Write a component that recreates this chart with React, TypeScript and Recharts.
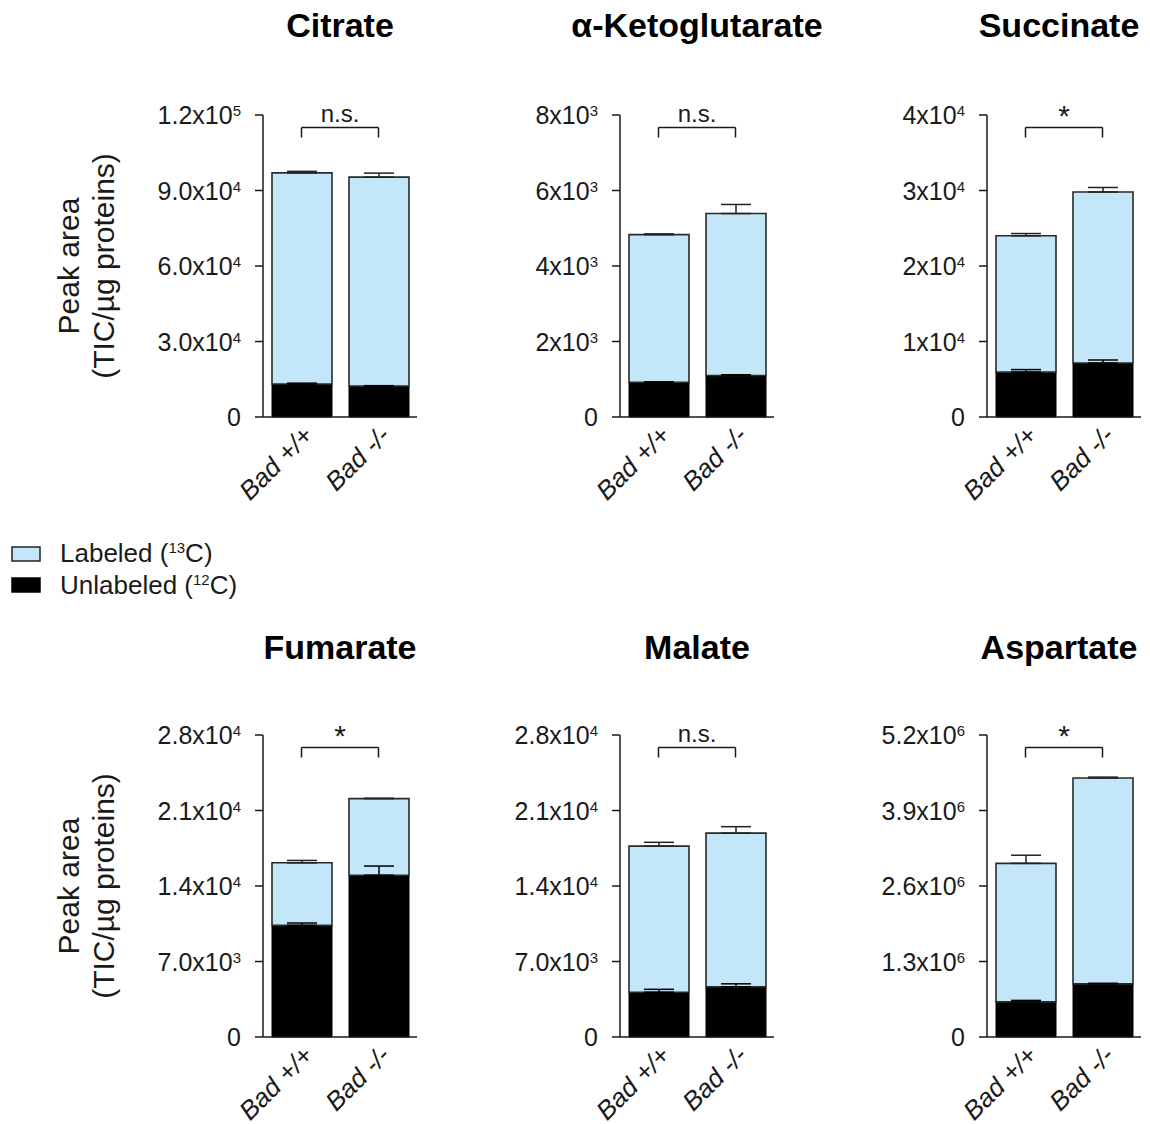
import React from 'react';
import { BarChart, Bar, XAxis, YAxis, ErrorBar, ReferenceLine } from 'recharts';

const categories = ['Bad +/+', 'Bad -/-'];

// values (peak area, TIC/µg proteins)
const citrateUnlabeled = [13100, 12300];
const citrateLabeled = [83900, 83000];
const citrateUnlabeledErr = [350, 150];
const citrateLabeledErr = [600, 1600];
const citrateTicks = [0, 30000, 60000, 90000, 120000];
const citrateTickLabels = ['0', '3.0x10^4', '6.0x10^4', '9.0x10^4', '1.2x10^5'];

const ketoUnlabeled = [920, 1100];
const ketoLabeled = [3910, 4290];
const ketoUnlabeledErr = [10, 20];
const ketoLabeledErr = [20, 240];
const ketoTicks = [0, 2000, 4000, 6000, 8000];
const ketoTickLabels = ['0', '2x10^3', '4x10^3', '6x10^3', '8x10^3'];

const succinateUnlabeled = [5950, 7150];
const succinateLabeled = [18050, 22650];
const succinateUnlabeledErr = [330, 400];
const succinateLabeledErr = [300, 600];
const succinateTicks = [0, 10000, 20000, 30000, 40000];
const succinateTickLabels = ['0', '1x10^4', '2x10^4', '3x10^4', '4x10^4'];

const fumarateUnlabeled = [10350, 15000];
const fumarateLabeled = [5800, 7100];
const fumarateUnlabeledErr = [220, 850];
const fumarateLabeledErr = [220, 30];
const fumarateTicks = [0, 7000, 14000, 21000, 28000];
const fumarateTickLabels = ['0', '7.0x10^3', '1.4x10^4', '2.1x10^4', '2.8x10^4'];

const malateUnlabeled = [4150, 4650];
const malateLabeled = [13550, 14250];
const malateUnlabeledErr = [270, 280];
const malateLabeledErr = [350, 600];
const malateTicks = [0, 7000, 14000, 21000, 28000];
const malateTickLabels = ['0', '7.0x10^3', '1.4x10^4', '2.1x10^4', '2.8x10^4'];

const aspartateUnlabeled = [605000, 915000];
const aspartateLabeled = [2385000, 3545000];
const aspartateUnlabeledErr = [25000, 10000];
const aspartateLabeledErr = [140000, 15000];
const aspartateTicks = [0, 1300000, 2600000, 3900000, 5200000];
const aspartateTickLabels = ['0', '1.3x10^6', '2.6x10^6', '3.9x10^6', '5.2x10^6'];

const titles = ['Citrate', 'α-Ketoglutarate', 'Succinate', 'Fumarate', 'Malate', 'Aspartate'];
const significance = ['n.s.', 'n.s.', '*', '*', 'n.s.', '*'];

const BLUE = '#c3e6f8';
const INK = '#1a1a1a';
const FONT = '"Liberation Sans", Arial, Helvetica, sans-serif';

const panels = [
  { unl: citrateUnlabeled, lab: citrateLabeled, unlErr: citrateUnlabeledErr, labErr: citrateLabeledErr, ticks: citrateTicks, tickLabels: citrateTickLabels },
  { unl: ketoUnlabeled, lab: ketoLabeled, unlErr: ketoUnlabeledErr, labErr: ketoLabeledErr, ticks: ketoTicks, tickLabels: ketoTickLabels },
  { unl: succinateUnlabeled, lab: succinateLabeled, unlErr: succinateUnlabeledErr, labErr: succinateLabeledErr, ticks: succinateTicks, tickLabels: succinateTickLabels },
  { unl: fumarateUnlabeled, lab: fumarateLabeled, unlErr: fumarateUnlabeledErr, labErr: fumarateLabeledErr, ticks: fumarateTicks, tickLabels: fumarateTickLabels },
  { unl: malateUnlabeled, lab: malateLabeled, unlErr: malateUnlabeledErr, labErr: malateLabeledErr, ticks: malateTicks, tickLabels: malateTickLabels },
  { unl: aspartateUnlabeled, lab: aspartateLabeled, unlErr: aspartateUnlabeledErr, labErr: aspartateLabeledErr, ticks: aspartateTicks, tickLabels: aspartateTickLabels },
];

// layout of the 2x3 grid
const axisX = [263, 620, 987];
const titleX = [340, 697, 1059];
const plotTop = [115, 735];
const PLOT_W = 154;
const PLOT_H = 302;
const Y_W = 110;
const M_TOP = 40;
const M_RIGHT = 20;
const X_H = 100;

const YTick = ({ x, y, payload, labels, ticks }: any) => {
  const idx = ticks.indexOf(payload.value);
  const raw: string = labels[idx] ?? String(payload.value);
  const [base, exp] = raw.split('^');
  return (
    <text x={x - 6} y={y} dy="0.36em" textAnchor="end" fontSize={25} fill={INK} fontFamily={FONT}>
      {base}
      {exp && (
        <tspan dy={-8} fontSize={15}>
          {exp}
        </tspan>
      )}
    </text>
  );
};

const XTick = ({ x, y, payload }: any) => (
  <g transform={`translate(${x + 13},${y + 12})`}>
    <text x={0} y={0} textAnchor="end" transform="rotate(-45)" fontSize={26} fontStyle="italic" fill={INK} fontFamily={FONT}>
      {payload.value}
    </text>
  </g>
);

const Panel = ({ p, sig, left, top }: any) => {
  const data = categories.map((name, i) => ({
    name,
    unlabeled: p.unl[i],
    labeled: p.lab[i],
    unlabeledErr: [0, p.unlErr[i]],
    labeledErr: [0, p.labErr[i]],
  }));
  const max = p.ticks[p.ticks.length - 1];
  const yBracket = max * (1 - 12.5 / PLOT_H);
  const yDrop = max * (1 - 22.5 / PLOT_H);
  const star = sig === '*';

  return (
    <div style={{ position: 'absolute', left, top }}>
      <BarChart
        width={Y_W + PLOT_W + M_RIGHT}
        height={M_TOP + PLOT_H + X_H}
        data={data}
        margin={{ top: M_TOP, right: M_RIGHT, bottom: 0, left: 0 }}
        barSize={60}
      >
        <XAxis
          dataKey="name"
          height={X_H}
          tickLine={false}
          axisLine={{ stroke: INK, strokeWidth: 1.5 }}
          tick={<XTick />}
          interval={0}
        />
        <YAxis
          width={Y_W}
          domain={[0, max]}
          ticks={p.ticks}
          interval={0}
          tickSize={8}
          tickMargin={8}
          tickLine={{ stroke: INK, strokeWidth: 1.5 }}
          axisLine={{ stroke: INK, strokeWidth: 1.5 }}
          tick={<YTick labels={p.tickLabels} ticks={p.ticks} />}
        />
        <Bar dataKey="unlabeled" stackId="s" fill="#000" stroke="#000" strokeWidth={1} isAnimationActive={false}>
          <ErrorBar dataKey="unlabeledErr" direction="y" width={15} stroke="#000" strokeWidth={1.5} />
        </Bar>
        <Bar dataKey="labeled" stackId="s" fill={BLUE} stroke="#2a2a2a" strokeWidth={1.6} isAnimationActive={false}>
          <ErrorBar dataKey="labeledErr" direction="y" width={15} stroke="#222" strokeWidth={1.5} />
        </Bar>
        <ReferenceLine
          segment={[{ x: categories[0], y: yBracket }, { x: categories[1], y: yBracket }]}
          stroke={INK}
          strokeWidth={1.5}
          label={{ value: sig, position: 'top', offset: star ? 2 : 6, fontSize: star ? 30 : 24, fill: INK, fontFamily: FONT }}
        />
        <ReferenceLine segment={[{ x: categories[0], y: yBracket }, { x: categories[0], y: yDrop }]} stroke={INK} strokeWidth={1.5} />
        <ReferenceLine segment={[{ x: categories[1], y: yBracket }, { x: categories[1], y: yDrop }]} stroke={INK} strokeWidth={1.5} />
      </BarChart>
    </div>
  );
};

const App = () => (
  <div style={{ position: 'absolute', left: 0, top: 0, width: 1150, height: 1124, background: '#fff', fontFamily: FONT }}>
    <svg width={1150} height={1124} style={{ position: 'absolute', left: 0, top: 0 }}>
      {titles.map((t, i) => (
        <text
          key={t}
          x={titleX[i % 3]}
          y={i < 3 ? 37 : 659}
          textAnchor="middle"
          fontSize={34}
          fontWeight="bold"
          fill="#000"
          fontFamily={FONT}
        >
          {t}
        </text>
      ))}
      {plotTop.map((t) => (
        <g key={t} fontFamily={FONT} fontSize={30} fill={INK}>
          <text x={79} y={t + PLOT_H / 2} textAnchor="middle" transform={`rotate(-90, 79, ${t + PLOT_H / 2})`}>
            Peak area
          </text>
          <text x={114} y={t + PLOT_H / 2} textAnchor="middle" transform={`rotate(-90, 114, ${t + PLOT_H / 2})`}>
            (TIC/µg proteins)
          </text>
        </g>
      ))}
      <rect x={12} y={547} width={28} height={14} fill={BLUE} stroke="#222" strokeWidth={1.5} />
      <rect x={12} y={578} width={28} height={14} fill="#000" stroke="#000" strokeWidth={1.5} />
      <text x={60} y={562} fontSize={26} fill={INK} fontFamily={FONT}>
        Labeled (<tspan dy={-9} fontSize={15}>13</tspan>
        <tspan dy={9}>C)</tspan>
      </text>
      <text x={60} y={594} fontSize={26} fill={INK} fontFamily={FONT}>
        Unlabeled (<tspan dy={-9} fontSize={15}>12</tspan>
        <tspan dy={9}>C)</tspan>
      </text>
    </svg>
    {panels.map((p, i) => (
      <Panel
        key={titles[i]}
        p={p}
        sig={significance[i]}
        left={axisX[i % 3] - Y_W}
        top={plotTop[i < 3 ? 0 : 1] - M_TOP}
      />
    ))}
  </div>
);

export default App;
